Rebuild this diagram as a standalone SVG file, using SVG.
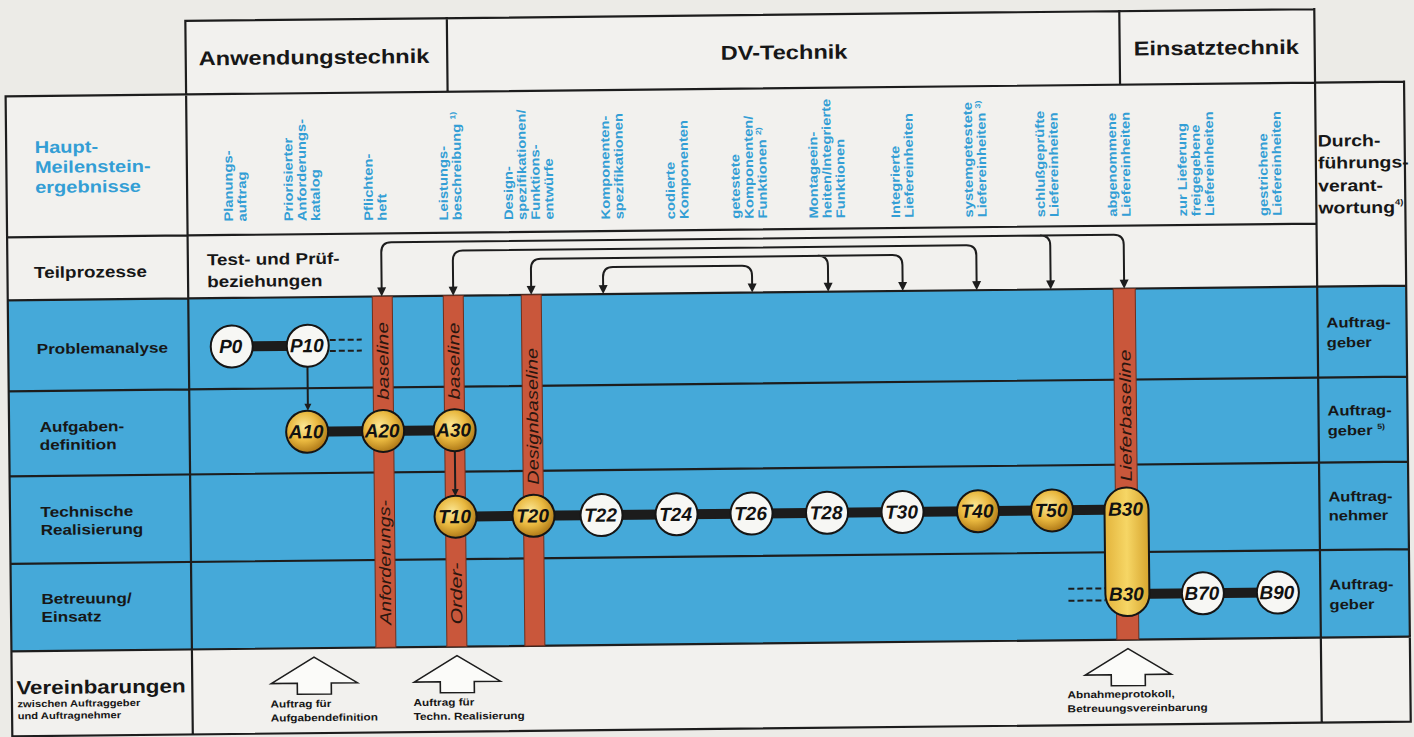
<svg xmlns="http://www.w3.org/2000/svg" width="1414" height="737" viewBox="0 0 1414 737">
<defs>
<radialGradient id="gold" cx="0.42" cy="0.38" r="0.62">
<stop offset="0" stop-color="#fbe796"/>
<stop offset="0.55" stop-color="#e9b83f"/>
<stop offset="1" stop-color="#b07a18"/>
</radialGradient>
<linearGradient id="pillg" x1="0" x2="1" y1="0" y2="0">
<stop offset="0" stop-color="#e3b43c"/>
<stop offset="0.5" stop-color="#f6d665"/>
<stop offset="1" stop-color="#d7a52e"/>
</linearGradient>
<path id="tip" d="M-4.5,-9 L4.5,-9 L0,0 Z"/>
<path id="tip2" d="M-3.5,-7 L3.5,-7 L0,0 Z"/>
</defs>
<style>
.g{stroke:#1d1d1d;stroke-width:2.2;fill:none;stroke-linecap:square}
.t{font-family:"Liberation Sans",Arial,sans-serif;font-weight:bold;fill:#171717}
.c{fill:#339ed5}
.col{font-size:12.5px}
.bar{fill:#c9573b;stroke:#6e2f1e;stroke-width:1}
.bt{font-family:"Liberation Sans",Arial,sans-serif;font-style:italic;font-size:16px;fill:#2a160f}
.cn{fill:#1c1c1c}
.nw{fill:#f7f7f4;stroke:#151515;stroke-width:2}
.ng{fill:url(#gold);stroke:#151515;stroke-width:2}
.nt{font-family:"Liberation Sans",Arial,sans-serif;font-weight:bold;font-style:italic;font-size:19px;text-anchor:middle;fill:#111}
.ar{stroke:#1d1d1d;stroke-width:2;fill:none}
.tp{fill:#1d1d1d}
.ds{stroke:#1d1d1d;stroke-width:2;stroke-dasharray:6 3;fill:none}
.ba{fill:#fbfbf9;stroke:#1d1d1d;stroke-width:1.6;stroke-linejoin:miter}
</style>
<rect width="1414" height="737" fill="#ecebe7"/>
<g transform="rotate(-0.6 707 368)">
<g id="table">
<rect x="8.5" y="89" width="1398.5" height="640" fill="#f2f1ee"/>
<rect x="189" y="15.5" width="1129" height="73.5" fill="#f2f1ee"/>
<rect x="8.5" y="293" width="1398.5" height="351" fill="#45a9d9"/>
<path class="g" d="M189,15.5 H1318 M189,15.5 V729 M450.5,15.5 V89 M1123,15.5 V89 M1318,15.5 V729 M8.5,89 H1407 M8.5,89 V729 M1407,89 V729 M8.5,729 H1407 M8.5,230 H1318 M8.5,293 H1407 M8.5,384 H1407 M8.5,469 H1407 M8.5,556.5 H1407 M8.5,644 H1407"/>
</g>
<g id="headers">
<text class="t" font-size="20" transform="translate(202 60) scale(1.18 1)">Anwendungstechnik</text>
<text class="t" font-size="20" transform="translate(724 60) scale(1.18 1)">DV-Technik</text>
<text class="t" font-size="20" transform="translate(1137 60) scale(1.18 1)">Einsatztechnik</text>
</g>
<g id="row-labels">
<text class="t c" font-size="17" transform="translate(37 146) scale(1.18 1)"><tspan x="0" y="0">Haupt-</tspan><tspan x="0" y="20">Meilenstein-</tspan><tspan x="0" y="40">ergebnisse</tspan></text>
<text class="t" font-size="16" transform="translate(35 271) scale(1.18 1)">Teilprozesse</text>
<text class="t" font-size="14.5" transform="translate(37 347) scale(1.18 1)">Problemanalyse</text>
<text class="t" font-size="14.5" transform="translate(39 425) scale(1.18 1)"><tspan x="0" y="0">Aufgaben-</tspan><tspan x="0" y="18">definition</tspan></text>
<text class="t" font-size="14.5" transform="translate(39 510) scale(1.18 1)"><tspan x="0" y="0">Technische</tspan><tspan x="0" y="18">Realisierung</tspan></text>
<text class="t" font-size="14.5" transform="translate(39 597) scale(1.18 1)"><tspan x="0" y="0">Betreuung/</tspan><tspan x="0" y="18">Einsatz</tspan></text>
<text class="t" font-size="19" transform="translate(13 687) scale(1.18 1)">Vereinbarungen</text>
<text class="t" font-size="9.5" transform="translate(14 700) scale(1.18 1)"><tspan x="0" y="0">zwischen Auftraggeber</tspan><tspan x="0" y="12">und Auftragnehmer</tspan></text>
<text class="t" font-size="16" transform="translate(208 260) scale(1.18 1)"><tspan x="0" y="0">Test- und Prüf-</tspan><tspan x="0" y="22">beziehungen</tspan></text>
</g>
<g id="responsibility">
<text class="t" font-size="16.5" transform="translate(1320 153) scale(1.18 1)"><tspan x="0" y="0">Durch-</tspan><tspan x="0" y="22">führungs-</tspan><tspan x="0" y="45">verant-</tspan><tspan x="0" y="67">wortung</tspan><tspan font-size="8" dy="-8">4)</tspan></text>
<text class="t" font-size="14" transform="translate(1327 334) scale(1.18 1)"><tspan x="0" y="0">Auftrag-</tspan><tspan x="0" y="20">geber</tspan></text>
<text class="t" font-size="14" transform="translate(1327 422) scale(1.18 1)"><tspan x="0" y="0">Auftrag-</tspan><tspan x="0" y="20">geber </tspan><tspan font-size="7.5" dy="-6">5)</tspan></text>
<text class="t" font-size="14" transform="translate(1327 508) scale(1.18 1)"><tspan x="0" y="0">Auftrag-</tspan><tspan x="0" y="19">nehmer</tspan></text>
<text class="t" font-size="14" transform="translate(1327 596) scale(1.18 1)"><tspan x="0" y="0">Auftrag-</tspan><tspan x="0" y="20">geber</tspan></text>
</g>
<g id="milestone-results">
<text class="t c col" transform="translate(234.5 216.6) rotate(-90) scale(1.18 1)"><tspan x="0" y="0">Planungs-</tspan><tspan x="0" y="13.5">auftrag</tspan></text>
<text class="t c col" transform="translate(294.5 216.9) rotate(-90) scale(1.18 1)"><tspan x="0" y="0">Priorisierter</tspan><tspan x="0" y="13.5">Anforderungs-</tspan><tspan x="0" y="27">katalog</tspan></text>
<text class="t c col" transform="translate(374.5 217.3) rotate(-90) scale(1.18 1)"><tspan x="0" y="0">Pflichten-</tspan><tspan x="0" y="13.5">heft</tspan></text>
<text class="t c col" transform="translate(449.5 217.7) rotate(-90) scale(1.18 1)"><tspan x="0" y="0">Leistungs-</tspan><tspan x="0" y="13.5">beschreibung </tspan><tspan font-size="7.5" dy="-5">1)</tspan></text>
<text class="t c col" transform="translate(514.5 218) rotate(-90) scale(1.18 1)"><tspan x="0" y="0">Design-</tspan><tspan x="0" y="13.5">spezifikationen/</tspan><tspan x="0" y="27">Funktions-</tspan><tspan x="0" y="40.5">entwürfe</tspan></text>
<text class="t c col" transform="translate(611.5 218.5) rotate(-90) scale(1.18 1)"><tspan x="0" y="0">Komponenten-</tspan><tspan x="0" y="13.5">spezifikationen</tspan></text>
<text class="t c col" transform="translate(676.5 218.8) rotate(-90) scale(1.18 1)"><tspan x="0" y="0">codierte</tspan><tspan x="0" y="13.5">Komponenten</tspan></text>
<text class="t c col" transform="translate(741.5 219.2) rotate(-90) scale(1.18 1)"><tspan x="0" y="0">getestete</tspan><tspan x="0" y="13.5">Komponenten/</tspan><tspan x="0" y="27">Funktionen </tspan><tspan font-size="7.5" dy="-5">2)</tspan></text>
<text class="t c col" transform="translate(819.5 219.6) rotate(-90) scale(1.18 1)"><tspan x="0" y="0">Montageein-</tspan><tspan x="0" y="13.5">heiten/Integrierte</tspan><tspan x="0" y="27">Funktionen</tspan></text>
<text class="t c col" transform="translate(901.5 220) rotate(-90) scale(1.18 1)"><tspan x="0" y="0">Integrierte</tspan><tspan x="0" y="13.5">Liefereinheiten</tspan></text>
<text class="t c col" transform="translate(974.5 220.3) rotate(-90) scale(1.18 1)"><tspan x="0" y="0">systemgetestete</tspan><tspan x="0" y="13.5">Liefereinheiten </tspan><tspan font-size="7.5" dy="-5">3)</tspan></text>
<text class="t c col" transform="translate(1046.5 220.7) rotate(-90) scale(1.18 1)"><tspan x="0" y="0">schlußgeprüfte</tspan><tspan x="0" y="13.5">Liefereinheiten</tspan></text>
<text class="t c col" transform="translate(1118.5 221.1) rotate(-90) scale(1.18 1)"><tspan x="0" y="0">abgenommene</tspan><tspan x="0" y="13.5">Liefereinheiten</tspan></text>
<text class="t c col" transform="translate(1188.5 221.4) rotate(-90) scale(1.18 1)"><tspan x="0" y="0">zur Lieferung</tspan><tspan x="0" y="13.5">freigegebene</tspan><tspan x="0" y="27">Liefereinheiten</tspan></text>
<text class="t c col" transform="translate(1269.5 221.8) rotate(-90) scale(1.18 1)"><tspan x="0" y="0">gestrichene</tspan><tspan x="0" y="13.5">Liefereinheiten</tspan></text>
</g>
<g id="baselines">
<rect class="bar" x="373" y="293" width="20" height="351"/>
<rect class="bar" x="444" y="293" width="20" height="351"/>
<rect class="bar" x="522" y="293" width="20" height="351"/>
<rect class="bar" x="1114" y="293" width="22" height="351"/>
<text class="bt" transform="translate(388.5 396.5) rotate(-90)" textLength="78" lengthAdjust="spacingAndGlyphs">baseline</text>
<text class="bt" transform="translate(388.5 621.5) rotate(-90)" textLength="125" lengthAdjust="spacingAndGlyphs">Anforderungs-</text>
<text class="bt" transform="translate(459.5 397) rotate(-90)" textLength="77" lengthAdjust="spacingAndGlyphs">baseline</text>
<text class="bt" transform="translate(459.5 622) rotate(-90)" textLength="62" lengthAdjust="spacingAndGlyphs">Order-</text>
<text class="bt" transform="translate(537.5 483) rotate(-90)" textLength="137" lengthAdjust="spacingAndGlyphs">Designbaseline</text>
<text class="bt" transform="translate(1130.5 486) rotate(-90)" textLength="132" lengthAdjust="spacingAndGlyphs">Lieferbaseline</text>
</g>
<g id="connectors">
<path class="ar" d="M382.5,285 V249 Q382.5,239 392.5,239 H1115 Q1125,239 1125,249 V285 M1041.5,239 Q1051.5,239 1051.5,249 V285"/>
<path class="ar" d="M454,285 V258 Q454,248 464,248 H967.5 Q977.5,248 977.5,258 V285"/>
<path class="ar" d="M532,285 V267 Q532,257 542,257 H893.5 Q903.5,257 903.5,267 V285 M819,257 Q829,257 829,267 V285"/>
<path class="ar" d="M604,285 V276 Q604,266 614,266 H743 Q753,266 753,276 V285"/>
<use href="#tip" class="tp" x="382.5" y="293"/>
<use href="#tip" class="tp" x="454" y="293"/>
<use href="#tip" class="tp" x="532" y="293"/>
<use href="#tip" class="tp" x="604" y="293"/>
<use href="#tip" class="tp" x="753" y="293"/>
<use href="#tip" class="tp" x="829" y="293"/>
<use href="#tip" class="tp" x="903.5" y="293"/>
<use href="#tip" class="tp" x="977.5" y="293"/>
<use href="#tip" class="tp" x="1051.5" y="293"/>
<use href="#tip" class="tp" x="1125" y="293"/>
<rect class="cn" x="232" y="336.5" width="76" height="10"/>
<rect class="cn" x="306.5" y="422.5" width="147.5" height="10"/>
<rect class="cn" x="454" y="509" width="671" height="10"/>
<rect class="cn" x="1125" y="593.5" width="150.5" height="10"/>
<path class="ds" d="M330,336 H362 M330,347 H362"/>
<path class="ds" d="M1066,592.5 H1103 M1066,604.5 H1103"/>
<path class="ar" stroke-width="1.5" d="M307.5,362.5 V400 M454,448.5 V487"/>
<use href="#tip2" class="tp" x="307.5" y="406.5"/>
<use href="#tip2" class="tp" x="454" y="493.5"/>
</g>
<g id="P0"><circle class="nw" cx="232" cy="341.5" r="21"/><text class="nt" x="231" y="348">P0</text></g>
<g id="P10"><circle class="nw" cx="308" cy="341.5" r="21"/><text class="nt" x="307" y="348">P10</text></g>
<g id="A10"><circle class="ng" cx="306.5" cy="427.5" r="21"/><text class="nt" x="305.5" y="434">A10</text></g>
<g id="A20"><circle class="ng" cx="382.5" cy="427.5" r="21"/><text class="nt" x="381.5" y="434">A20</text></g>
<g id="A30"><circle class="ng" cx="454" cy="427.5" r="21"/><text class="nt" x="453" y="434">A30</text></g>
<g id="T10"><circle class="ng" cx="454" cy="514" r="21"/><text class="nt" x="453" y="520.5">T10</text></g>
<g id="T20"><circle class="ng" cx="532" cy="514" r="21"/><text class="nt" x="531" y="520.5">T20</text></g>
<g id="T22"><circle class="nw" cx="600" cy="514" r="21"/><text class="nt" x="599" y="520.5">T22</text></g>
<g id="T24"><circle class="nw" cx="675" cy="514" r="21"/><text class="nt" x="674" y="520.5">T24</text></g>
<g id="T26"><circle class="nw" cx="750" cy="514" r="21"/><text class="nt" x="749" y="520.5">T26</text></g>
<g id="T28"><circle class="nw" cx="825.5" cy="514" r="21"/><text class="nt" x="824.5" y="520.5">T28</text></g>
<g id="T30"><circle class="nw" cx="901" cy="514" r="21"/><text class="nt" x="900" y="520.5">T30</text></g>
<g id="T40"><circle class="ng" cx="976.5" cy="514" r="21"/><text class="nt" x="975.5" y="520.5">T40</text></g>
<g id="T50"><circle class="ng" cx="1050.5" cy="514" r="21"/><text class="nt" x="1049.5" y="520.5">T50</text></g>
<g id="B30"><rect x="1103" y="492" width="44" height="128.5" rx="22" fill="url(#pillg)" stroke="#151515" stroke-width="2"/><text class="nt" x="1124" y="520">B30</text><text class="nt" x="1124" y="605">B30</text></g>
<g id="B70"><circle class="nw" cx="1200.5" cy="598.5" r="21"/><text class="nt" x="1199.5" y="605">B70</text></g>
<g id="B90"><circle class="nw" cx="1275.5" cy="598.5" r="21"/><text class="nt" x="1274.5" y="605">B90</text></g>
<g id="agreements">
<path class="ba" d="M311,653 L354,679 L328,679 L328,690 L294,690 L294,679 L268,679 Z"/>
<path class="ba" d="M454,653 L497,679 L471,679 L471,690 L437,690 L437,679 L411,679 Z"/>
<path class="ba" d="M1125,653 L1168,679 L1142,679 L1142,690 L1108,690 L1108,679 L1082,679 Z"/>
<text class="t" font-size="10" transform="translate(267 703) scale(1.18 1)"><tspan x="0" y="0">Auftrag für</tspan><tspan x="0" y="14">Aufgabendefinition</tspan></text>
<text class="t" font-size="10" transform="translate(410 703) scale(1.18 1)"><tspan x="0" y="0">Auftrag für</tspan><tspan x="0" y="14">Techn. Realisierung</tspan></text>
<text class="t" font-size="10" transform="translate(1064 702) scale(1.18 1)"><tspan x="0" y="0">Abnahmeprotokoll,</tspan><tspan x="0" y="14">Betreuungsvereinbarung</tspan></text>
</g>
</g>
</svg>
